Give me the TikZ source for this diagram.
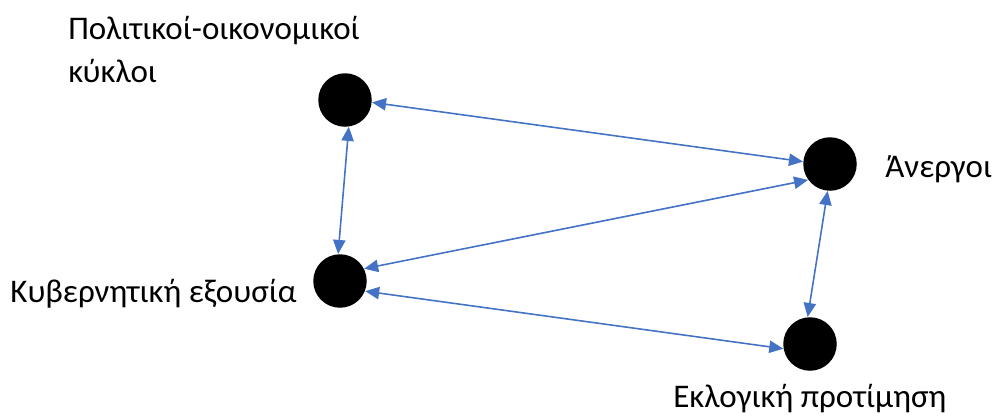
\documentclass[tikz,border=0pt]{standalone}
\usepackage{fontspec}
\setmainfont{Carlito}
\usetikzlibrary{arrows.meta}

\begin{document}
\begin{tikzpicture}[x=0.02cm, y=-0.02cm,
  dot/.style={circle, fill=black, minimum size=1.07cm, inner sep=0},
  lbl/.style={inner sep=0, font=\fontsize{18.8}{24.4}\selectfont},
  link/.style={draw=linkblue, line width=0.9pt,
    {Triangle[length=8pt,width=7pt]}-{Triangle[length=8pt,width=7pt]}}]
  \definecolor{linkblue}{HTML}{4472C4}
  \useasboundingbox (0,0) rectangle (1000,417);

  \node[dot] (politikoi) at (345,100) {};
  \node[dot] (anergoi) at (830,164) {};
  \node[dot] (kyvernisi) at (340,281) {};
  \node[dot] (eklogi) at (810,344) {};

  \node[lbl, anchor=base west, align=left] (lpolitikoi) at (68,82)
    {Πολιτικοί-οικονομικοί\\κύκλοι};
  \node[lbl, anchor=base west] (lanergoi) at (885,177) {Άνεργοι};
  \node[lbl, anchor=base west] (lkyvernisi) at (10,302) {Κυβερνητική εξουσία};
  \node[lbl, anchor=base west] (leklogi) at (673,407) {Εκλογική προτίμηση};

  \draw[link] (politikoi.-5) -- (anergoi.175);
  \draw[link] (politikoi.-82) -- (kyvernisi.94);
  \draw[link] (anergoi.216) -- (kyvernisi.27);
  \draw[link] (anergoi.-95) -- (eklogi.95);
  \draw[link] (kyvernisi.-22) -- (eklogi.190);
\end{tikzpicture}
\end{document}
